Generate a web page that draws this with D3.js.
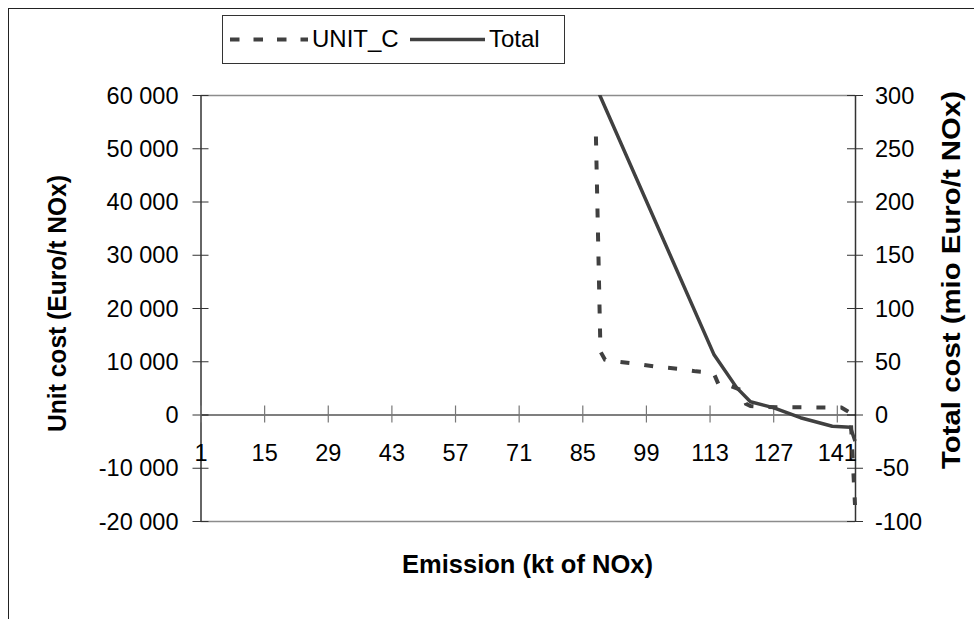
<!DOCTYPE html>
<html>
<head>
<meta charset="utf-8">
<script src="https://cdn.jsdelivr.net/npm/d3@7"></script>
<style>
  html, body { margin: 0; padding: 0; background: #fff; }
  svg { display: block; }
  text { font-family: "Liberation Sans", Arial, sans-serif; fill: #000; }
</style>
</head>
<body>
<svg id="chart" width="974" height="619"></svg>
<script>
// ---- data ----
const xTickLabels = [1, 15, 29, 43, 57, 71, 85, 99, 113, 127, 141];
const leftTicks = [-20000, -10000, 0, 10000, 20000, 30000, 40000, 50000, 60000];
const rightTicks = [-100, -50, 0, 50, 100, 150, 200, 250, 300];

const unitEmission = [88, 89, 90, 91, 96, 101, 106, 110, 113, 114, 115, 116, 119, 120, 121, 122, 125, 141, 142, 143, 144, 145];
const unitCost     = [52200, 11800, 10300, 10100, 9600, 9000, 8600, 8100, 7900, 7600, 5600, 5900, 4900, 4600, 2000, 1600, 1400, 1300, 1300, 800, 300, -17000];

const totalEmission = [88, 114, 119, 122, 127, 133, 140, 144, 145];
const totalCost     = [308, 56, 25, 12, 6.5, -3, -11, -12, -25];

// ---- layout ----
const svg = d3.select("#chart");
const L = 200.5, R = 855, T = 95, B = 521;
const lineColor = "#404040";

const x = d3.scaleLinear().domain([1, 145]).range([L, R]);
const yL = d3.scaleLinear().domain([-20000, 60000]).range([B, T]);
const yR = d3.scaleLinear().domain([-100, 300]).range([B, T]);

const loc = d3.formatLocale({decimal: ".", thousands: " ", grouping: [3], currency: ["", ""], minus: "-"});
const fmt = loc.format(",");

// outer chart border
svg.append("rect").attr("x", 8.5).attr("y", 8.5).attr("width", 1100).attr("height", 800)
  .attr("fill", "none").attr("stroke", "#222").attr("stroke-width", 1);

// plot area top / bottom border (gray)
svg.append("line").attr("x1", L).attr("x2", R).attr("y1", T + 0.5).attr("y2", T + 0.5)
  .attr("stroke", "#8c8c8c").attr("stroke-width", 1.5);
svg.append("line").attr("x1", L).attr("x2", R).attr("y1", B + 0.5).attr("y2", B + 0.5)
  .attr("stroke", "#8c8c8c").attr("stroke-width", 1.5);

// left axis
const gL = svg.append("g").attr("transform", `translate(${L},0)`)
  .call(d3.axisLeft(yL).tickValues(leftTicks).tickFormat(fmt).tickSizeOuter(0).tickSizeInner(8));
gL.select(".domain").attr("stroke", "#333").attr("stroke-width", 1.5);
gL.selectAll(".tick line").attr("x1", -8).attr("x2", 8).attr("stroke", "#333");
gL.selectAll(".tick text").attr("x", -22).attr("dy", "0.35em")
  .style("font-size", "23.5px").style("font-family", "'Liberation Sans', Arial, sans-serif").attr("fill", "#000");

// right axis
const gR = svg.append("g").attr("transform", `translate(${R},0)`)
  .call(d3.axisRight(yR).tickValues(rightTicks).tickFormat(fmt).tickSizeOuter(0).tickSizeInner(8));
gR.select(".domain").attr("stroke", "#333").attr("stroke-width", 1.5);
gR.selectAll(".tick line").attr("x1", -8).attr("x2", 8).attr("stroke", "#333");
gR.selectAll(".tick text").attr("x", 20).attr("dy", "0.35em")
  .style("font-size", "23.5px").style("font-family", "'Liberation Sans', Arial, sans-serif").attr("fill", "#000");

// x axis (category axis crossing at 0)
const gX = svg.append("g").attr("transform", `translate(0,${yL(0)})`)
  .call(d3.axisBottom(x).tickValues(xTickLabels).tickFormat(d3.format("d")).tickSizeOuter(0).tickSizeInner(8));
gX.select(".domain").attr("stroke", "#000").attr("stroke-width", 1.2);
gX.selectAll(".tick line").attr("y1", -9).attr("y2", 8).attr("stroke", "#777").attr("stroke-width", 1.2);
gX.selectAll(".tick text").attr("y", 46).attr("dy", 0)
  .style("font-size", "23.5px").style("font-family", "'Liberation Sans', Arial, sans-serif").attr("fill", "#000");

// clip
svg.append("clipPath").attr("id", "plotclip").append("rect")
  .attr("x", L).attr("y", T).attr("width", R - L + 4).attr("height", B - T);

const plot = svg.append("g").attr("clip-path", "url(#plotclip)");

const unitData = unitEmission.map((e, i) => [e, unitCost[i]]);
const totalData = totalEmission.map((e, i) => [e, totalCost[i]]);

plot.append("path").datum(totalData)
  .attr("d", d3.line().x(d => x(d[0])).y(d => yR(d[1])))
  .attr("fill", "none").attr("stroke", lineColor).attr("stroke-width", 3.5).attr("stroke-linejoin", "round");

plot.append("path").datum(unitData)
  .attr("d", d3.line().x(d => x(d[0])).y(d => yL(d[1])))
  .attr("fill", "none").attr("stroke", lineColor).attr("stroke-width", 4)
  .attr("stroke-dasharray", "9,15");

// axis titles
svg.append("text").attr("transform", "translate(66,303.5) rotate(-90)")
  .attr("text-anchor", "middle").style("font-size", "25px").style("font-weight", "bold")
  .attr("textLength", 257).attr("lengthAdjust", "spacingAndGlyphs")
  .text("Unit cost (Euro/t NOx)");
svg.append("text").attr("transform", "translate(960,280) rotate(-90)")
  .attr("text-anchor", "middle").style("font-size", "25px").style("font-weight", "bold")
  .attr("textLength", 378).attr("lengthAdjust", "spacingAndGlyphs")
  .text("Total cost (mio Euro/t NOx)");
svg.append("text").attr("x", 527.5).attr("y", 573)
  .attr("text-anchor", "middle").style("font-size", "25px").style("font-weight", "bold")
  .attr("textLength", 251).attr("lengthAdjust", "spacingAndGlyphs")
  .text("Emission (kt of NOx)");

// legend
const lg = svg.append("g");
lg.append("rect").attr("x", 222.5).attr("y", 15.5).attr("width", 342).attr("height", 48)
  .attr("fill", "#fff").attr("stroke", "#333").attr("stroke-width", 1);
lg.append("line").attr("x1", 230).attr("x2", 308).attr("y1", 39.5).attr("y2", 39.5)
  .attr("stroke", lineColor).attr("stroke-width", 4).attr("stroke-dasharray", "9.5,14");
lg.append("text").attr("x", 312).attr("y", 47).style("font-size", "24px").text("UNIT_C");
lg.append("line").attr("x1", 410).attr("x2", 485).attr("y1", 39.5).attr("y2", 39.5)
  .attr("stroke", lineColor).attr("stroke-width", 3.5);
lg.append("text").attr("x", 489).attr("y", 47).style("font-size", "24px").text("Total");
</script>
</body>
</html>
